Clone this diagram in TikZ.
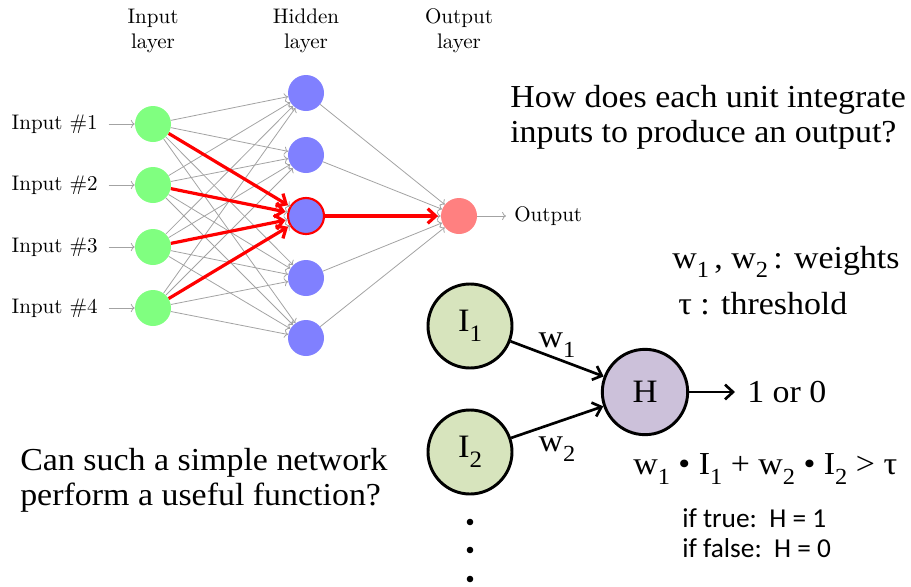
\documentclass[tikz,border=0pt]{standalone}
\usepackage{fontspec}
\usetikzlibrary{arrows.meta}
\newfontfamily\cam[FakeStretch=1.06]{Liberation Serif}
\newfontfamily\calib{Carlito}
\newfontfamily\lmten[Extension=.otf]{lmroman10-regular}
\newcommand\sbs[1]{\raisebox{-0.3em}{\scalebox{0.72}{#1}}}
\definecolor{ingreen}{HTML}{D7E4BD}
\definecolor{hpurple}{HTML}{CCC1DA}
\begin{document}
\begin{tikzpicture}[x=0.75pt,y=-0.75pt,
  neuron/.style={circle,minimum size=27pt,inner sep=0pt},
  inneuron/.style={neuron,fill=green!50},
  hidneuron/.style={neuron,fill=blue!50},
  outneuron/.style={neuron,fill=red!50},
  lbl/.style={font=\lmten\fontsize{15.8}{19}\selectfont},
  gry/.style={draw=black!36,line width=0.6pt,->},
  redarr/.style={draw=red,line width=2.4pt,-{Straight Barb[length=6pt,width=11pt]},shorten >=2pt},
  unit/.style={circle,draw=black,line width=2.2pt,minimum size=63pt,inner sep=0pt,
    font=\cam\fontsize{24.5}{26}\selectfont},
  blk/.style={draw=black,line width=2pt,-{Straight Barb[length=6pt,width=11pt]}},
  txt/.style={inner sep=0pt,align=left,font=\cam\fontsize{24}{26.25}\selectfont}]
\useasboundingbox (0,0) rectangle (911,586);

% layer titles
\node[lbl,align=center] (tin)  at (153,31) {Input\\layer};
\node[lbl,align=center] (thid) at (306,31) {Hidden\\layer};
\node[lbl,align=center] (tout) at (459,31) {Output\\layer};

% input layer with its labels
\foreach \k/\y in {1/124,2/185,3/247,4/308}{
  \node[inneuron] (in\k) at (153,\y) {};
  \node[lbl,anchor=east,inner sep=0pt] (lab\k) at (98,\y) {Input \#\k};
  \draw[gry,shorten <=8pt] (lab\k) -- (in\k);
}

% hidden layer
\foreach \k/\y in {1/93,2/155,3/216,4/278,5/338}{
  \node[hidneuron] (hid\k) at (306,\y) {};
}
\node[neuron,draw=red,line width=1.6pt,fill=blue!50] at (hid3) {};

% output layer
\node[outneuron] (out) at (459,216) {};
\node[lbl,anchor=west,inner sep=0pt] (outlab) at (514,216) {Output};
\draw[gry,shorten >=6pt] (out) -- (outlab);

% all connections
\foreach \i in {1,...,4}{
  \foreach \j in {1,...,5}{
    \draw[gry] (in\i) -- (hid\j);
  }
}
\foreach \j in {1,...,5}{
  \draw[gry] (hid\j) -- (out);
}

% highlighted paths through one hidden unit
\foreach \i in {1,...,4}{
  \draw[redarr] (in\i) -- (hid3);
}
\draw[redarr] (hid3) -- (out);

% questions
\node[txt,anchor=west] (q1) at (510,117) {How does each unit integrate\\inputs to produce an output?};
\node[txt,anchor=west] (q2) at (20,480) {Can such a simple network\\perform a useful function?};

% single threshold unit
\node[unit,fill=ingreen] (ia) at (470,326) {I\sbs{1}};
\node[unit,fill=ingreen] (ib) at (470,452) {I\sbs{2}};
\node[unit,fill=hpurple,minimum size=64pt] (hh) at (645,392) {H};
\coordinate (hend) at (735,392);
\draw[blk] (ia) -- (hh);
\draw[blk] (ib) -- (hh);
\draw[blk] (hh) -- (hend);
\node[txt,anchor=west] (res) at (747,392) {1 or 0};
\node[txt] (wa) at (557,345) {w\sbs{1}};
\node[txt] (wb) at (557,449) {w\sbs{2}};

% more inputs
\fill (470,522) circle (3.3);
\fill (470,550) circle (3.3);
\fill (470,579) circle (3.3);

% legend and rule
\node[txt,anchor=west] (wts) at (672,262) {w\sbs{1}\,, w\sbs{2}\,: weights};
\node[txt,anchor=west] (thr) at (678,304) {τ : threshold};
\node[txt,anchor=west] (eq) at (633,469) {w\sbs{1} • I\sbs{1} + w\sbs{2} • I\sbs{2} > τ};
\node[inner sep=0pt,anchor=west,align=left,font=\calib\fontsize{20.5}{22.5}\selectfont] (cond) at (682,533)
  {if true:\ \ H = 1\\if false:\ \ H = 0};
\end{tikzpicture}
\end{document}
